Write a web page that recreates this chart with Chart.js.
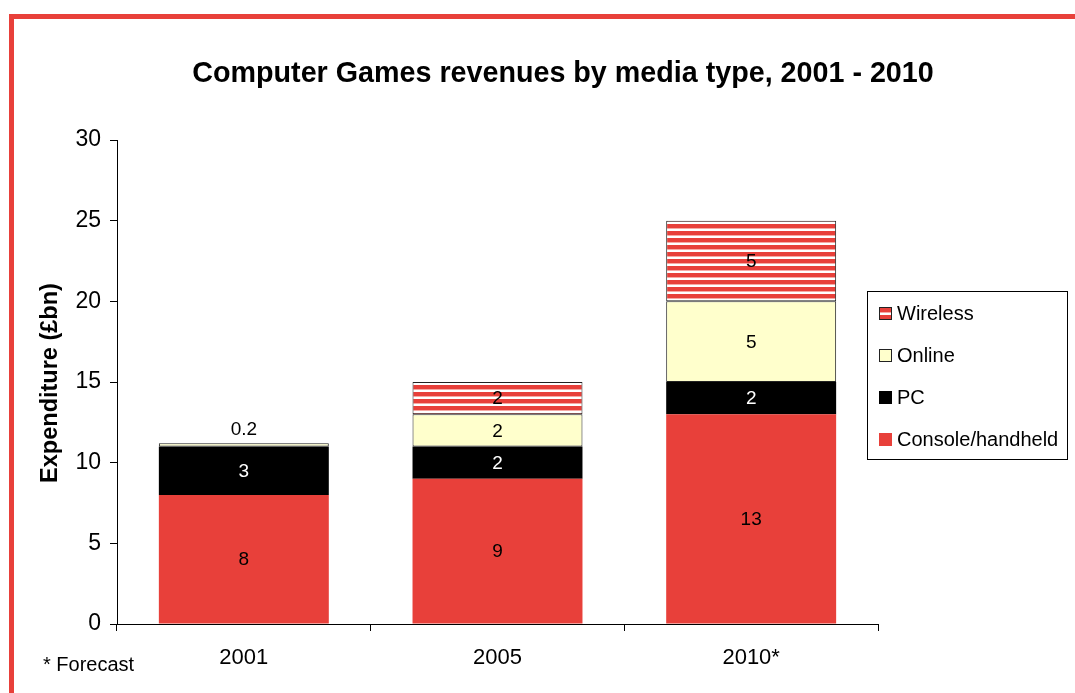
<!DOCTYPE html>
<html>
<head>
<meta charset="utf-8">
<title>Computer Games revenues by media type</title>
<script src="https://cdn.jsdelivr.net/npm/chart.js@4/dist/chart.umd.min.js"></script>
<style>
  html, body { margin: 0; padding: 0; background: #fff; }
  #wrap { position: relative; width: 1075px; height: 693px; overflow: hidden; }
  #frame {
    position: absolute; left: 9px; top: 14px; right: 0; bottom: 0;
    border-top: 5px solid #E8403A; border-left: 5px solid #E8403A;
  }
  canvas { position: absolute; left: 0; top: 0; }
</style>
</head>
<body>
<div id="wrap">
  <div id="frame"></div>
  <canvas id="gamesChart" width="1075" height="693"></canvas>
</div>
<script>
// revenues in £bn, stacked bottom to top
const years = ['2001', '2005', '2010*'];
const consoleData = [8, 9, 13];
const pcData = [3, 2, 2];
const onlineData = [0.2, 2, 5];
const wirelessData = [null, 2, 5];
const yTicks = [0, 5, 10, 15, 20, 25, 30];

const RED = '#E8403A';
const CREAM = '#FFFFCC';
const FONT = '"Liberation Sans", Arial, sans-serif';

// red/white horizontal stripes for wireless
function stripes() {
  const c = document.createElement('canvas');
  c.width = 8; c.height = 7;
  const g = c.getContext('2d');
  g.fillStyle = '#fff';
  g.fillRect(0, 0, 8, 7);
  g.fillStyle = RED;
  g.fillRect(0, 0, 8, 4);
  g.fillStyle = '#F7A9A4';
  g.fillRect(0, 4, 8, 1);
  return g.createPattern(c, 'repeat');
}
const wirelessFill = stripes();

// value labels in the middle of each segment
const valueLabels = {
  id: 'valueLabels',
  afterDatasetsDraw(chart) {
    const ctx = chart.ctx;
    ctx.save();
    ctx.font = '19px ' + FONT;
    ctx.textAlign = 'center';
    ctx.textBaseline = 'middle';
    chart.data.datasets.forEach((ds, i) => {
      chart.getDatasetMeta(i).data.forEach((bar, j) => {
        const v = ds.data[j];
        if (v == null) return;
        const mid = (bar.y + bar.base) / 2;
        const tall = Math.abs(bar.base - bar.y) > 12;
        ctx.fillStyle = ds.label === 'PC' ? '#fff' : '#000';
        ctx.fillText(String(v), bar.x, tall ? mid + 1 : bar.y - 14);
      });
    });
    ctx.restore();
  }
};

// title, axis title, footnote and boxed legend
const extras = {
  id: 'extras',
  afterDraw(chart) {
    const ctx = chart.ctx;
    const area = chart.chartArea;
    ctx.save();
    ctx.fillStyle = '#000';
    ctx.textBaseline = 'middle';

    ctx.font = 'bold 28.7px ' + FONT;
    ctx.textAlign = 'center';
    ctx.fillText('Computer Games revenues by media type, 2001 - 2010', 563, 74);

    ctx.save();
    ctx.translate(51, (area.top + area.bottom) / 2 + 1);
    ctx.rotate(-Math.PI / 2);
    ctx.font = 'bold 23.5px ' + FONT;
    ctx.fillText('Expenditure (£bn)', 0, 0);
    ctx.restore();

    ctx.font = '20px ' + FONT;
    ctx.textAlign = 'left';
    ctx.fillText('* Forecast', 43, 665);

    // legend box
    ctx.strokeStyle = '#000';
    ctx.lineWidth = 1;
    ctx.strokeRect(867.5, 291.5, 200, 168);
    const order = ['Wireless', 'Online', 'PC', 'Console/handheld'];
    order.forEach((name, k) => {
      const ds = chart.data.datasets.find(d => d.label === name);
      const y = 313 + k * 42;
      ctx.fillStyle = ds.backgroundColor;
      ctx.fillRect(879, y - 6, 13, 13);
      if (ds.borderWidth) {
        ctx.strokeStyle = '#222';
        ctx.strokeRect(879.5, y - 5.5, 12, 12);
      }
      ctx.fillStyle = '#000';
      ctx.font = '20px ' + FONT;
      ctx.fillText(name, 897, y + 1);
    });
    ctx.restore();
  }
};

new Chart(document.getElementById('gamesChart'), {
  type: 'bar',
  data: {
    labels: years,
    datasets: [
      { label: 'Console/handheld', data: consoleData, backgroundColor: RED, borderWidth: 0 },
      { label: 'PC', data: pcData, backgroundColor: '#000', borderWidth: 0 },
      { label: 'Online', data: onlineData, backgroundColor: CREAM, borderColor: '#222', borderWidth: 1 },
      { label: 'Wireless', data: wirelessData, backgroundColor: wirelessFill, borderColor: '#222', borderWidth: 1 }
    ]
  },
  options: {
    responsive: false,
    animation: false,
    layout: { padding: { left: 0, top: 140, right: 197, bottom: 0 } },
    datasets: { bar: { categoryPercentage: 1, barPercentage: 0.67, borderSkipped: false } },
    plugins: {
      legend: { display: false },
      title: { display: false },
      tooltip: { enabled: false }
    },
    scales: {
      x: {
        stacked: true,
        afterFit: s => { s.height = 69; },
        border: { color: '#000', width: 1 },
        grid: { offset: true, drawOnChartArea: false, color: '#000', tickLength: 7 },
        ticks: { color: '#000', font: { family: FONT, size: 22 }, padding: 14 }
      },
      y: {
        stacked: true,
        min: 0,
        max: 30,
        afterFit: s => { s.width = 117; },
        afterBuildTicks: s => { s.ticks = yTicks.map(v => ({ value: v })); },
        border: { color: '#000', width: 1 },
        grid: { drawOnChartArea: false, color: '#000', tickLength: 7 },
        ticks: { color: '#000', font: { family: FONT, size: 23 }, padding: 9 }
      }
    }
  },
  plugins: [valueLabels, extras]
});
</script>
</body>
</html>
